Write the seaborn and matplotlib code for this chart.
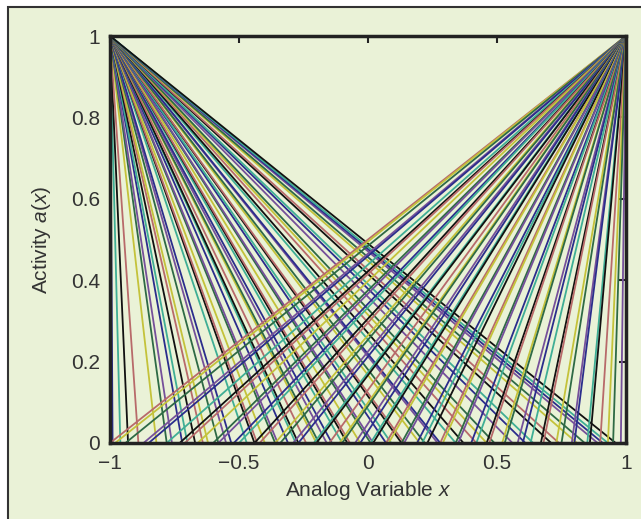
import numpy as np
import pandas as pd
import matplotlib
matplotlib.use("Agg")
import matplotlib.pyplot as plt
import seaborn as sns
from matplotlib.patches import Rectangle

# x-intercepts of decreasing lines: (-1, 1) -> (x0, 0)
dec_x0 = [-0.99, -0.96, -0.93, -0.89, -0.82, -0.78, -0.76, -0.72, -0.70, -0.67,
          -0.64, -0.62, -0.58, -0.55, -0.53, -0.47, -0.44, -0.43, -0.40, -0.36,
          -0.35, -0.31, -0.28, -0.27, -0.24, -0.20, -0.19, -0.16, -0.14, -0.10,
          -0.08, -0.07, -0.03, 0.01, 0.02, 0.07, 0.09, 0.13, 0.14, 0.20,
          0.22, 0.27, 0.28, 0.34, 0.37, 0.42, 0.46, 0.49, 0.56, 0.61,
          0.64, 0.71, 0.74, 0.81, 0.84, 0.89, 0.91, 0.93, 0.96]
# x-intercepts of increasing lines: (x0, 0) -> (1, 1)
inc_x0 = [-1.00, -0.98, -0.94, -0.87, -0.85, -0.78, -0.73, -0.71, -0.66, -0.60,
          -0.58, -0.52, -0.50, -0.44, -0.42, -0.36, -0.34, -0.29, -0.27, -0.21,
          -0.20, -0.15, -0.11, -0.10, -0.05, -0.03, 0.01, 0.02, 0.07, 0.08,
          0.13, 0.14, 0.19, 0.21, 0.23, 0.28, 0.29, 0.34, 0.35, 0.40,
          0.42, 0.46, 0.47, 0.52, 0.53, 0.58, 0.60, 0.63, 0.67, 0.68,
          0.73, 0.75, 0.79, 0.80, 0.85, 0.86, 0.90, 0.93, 0.95, 0.98]

x_ticks = [-1, -0.5, 0, 0.5, 1]
x_tick_labels = ["\u22121", "\u22120.5", "0", "0.5", "1"]
y_ticks = [0, 0.2, 0.4, 0.6, 0.8, 1]
y_tick_labels = ["0", "0.2", "0.4", "0.6", "0.8", "1"]

line_colors = ["#2b2d8c", "#2e6a45", "#b86a6a", "#3fae95", "#75509a", "#c4c23a", "#111111"]

rows = []
lid = 0
for x0 in dec_x0:
    rows.append({"x": -1.0, "y": 1.0, "line": lid})
    rows.append({"x": x0, "y": 0.0, "line": lid})
    lid += 1
for x0 in inc_x0:
    rows.append({"x": x0, "y": 0.0, "line": lid})
    rows.append({"x": 1.0, "y": 1.0, "line": lid})
    lid += 1
df = pd.DataFrame(rows)
palette = {i: line_colors[(i * 3) % len(line_colors)] for i in range(lid)}

sns.set_style("white")
plt.rcParams["font.family"] = ["Liberation Sans", "DejaVu Sans"]
plt.rcParams["mathtext.fontset"] = "custom"
plt.rcParams["mathtext.it"] = "Liberation Sans:italic"
plt.rcParams["mathtext.rm"] = "Liberation Sans"

bg = "#eaf2d7"
txt = "#333333"
fig = plt.figure(figsize=(6.41, 5.19), dpi=100, facecolor="white")
frame = Rectangle((8 / 641, -0.1), 1.2, 1 - 7 / 519 + 0.1,
                  transform=fig.transFigure, facecolor=bg,
                  edgecolor="#333333", linewidth=1.5, zorder=-10)
fig.add_artist(frame)
ax = fig.add_axes([110 / 641, 1 - 443 / 519, (626 - 110) / 641, (443 - 36) / 519])
ax.set_zorder(5)
ax.set_facecolor(bg)

sns.lineplot(data=df, x="x", y="y", hue="line", palette=palette, units="line",
             estimator=None, sort=False, legend=False, linewidth=1.3, ax=ax)

ax.set_xlim(-1, 1)
ax.set_ylim(0, 1)
ax.set_xticks(x_ticks)
ax.set_xticklabels(x_tick_labels)
ax.set_yticks(y_ticks)
ax.set_yticklabels(y_tick_labels)
ax.tick_params(direction="in", length=5, width=1.5, colors="#222222",
               labelcolor=txt, labelsize=15, top=True, right=True)
ax.tick_params(axis="x", pad=8)
ax.tick_params(axis="y", pad=7)
for s in ax.spines.values():
    s.set_linewidth(2.5)
    s.set_color("#222222")
ax.set_xlabel("Analog Variable $x$", fontsize=15, color=txt, labelpad=4)
ax.set_ylabel("Activity $a$($x$)", fontsize=15, color=txt, labelpad=13)

fig.savefig("out.png", dpi=100, facecolor="white")
